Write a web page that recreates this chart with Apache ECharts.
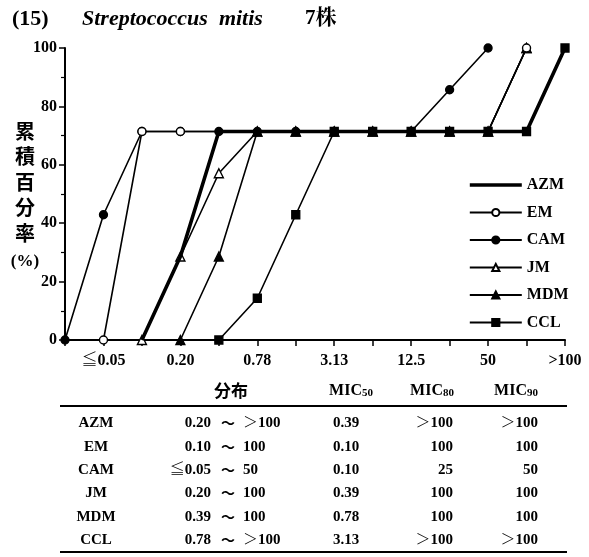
<!DOCTYPE html>
<html>
<head>
<meta charset="utf-8">
<script src="https://cdn.jsdelivr.net/npm/echarts@6/dist/echarts.min.js"></script>
<style>
html,body{margin:0;padding:0;background:#fff}
#c{width:589px;height:557px}
</style>
</head>
<body>
<div id="c"></div>
<script>
// MIC steps (μg/mL); the first slot is the unlabeled origin of the curves
const micSteps = ['', '≦0.05', '0.10', '0.20', '0.39', '0.78', '1.56', '3.13', '6.25', '12.5', '25', '50', '100', '>100'];
const drugs = ['AZM', 'EM', 'CAM', 'JM', 'MDM', 'CCL'];

// cumulative % of 7 strains inhibited at each step
const azm = ['-', '-', 0, 28.6, 71.4, 71.4, 71.4, 71.4, 71.4, 71.4, 71.4, 71.4, 71.4, 100];
const em  = ['-', 0, 71.4, 71.4, 71.4, 71.4, 71.4, 71.4, 71.4, 71.4, 71.4, 71.4, 100, '-'];
const cam = [0, 42.9, 71.4, 71.4, 71.4, 71.4, 71.4, 71.4, 71.4, 71.4, 85.7, 100, '-', '-'];
const jm  = ['-', '-', 0, 28.6, 57.1, 71.4, 71.4, 71.4, 71.4, 71.4, 71.4, 71.4, 100, '-'];
const mdm = ['-', '-', '-', 0, 28.6, 71.4, 71.4, 71.4, 71.4, 71.4, 71.4, 71.4, 100, '-'];
const ccl = ['-', '-', '-', '-', 0, 14.3, 42.9, 71.4, 71.4, 71.4, 71.4, 71.4, 71.4, 100];

const yTicks = [0, 20, 40, 60, 80, 100];

// summary table
const rangeLow  = ['0.20', '0.10', '≦0.05', '0.20', '0.39', '0.78'];
const rangeHigh = ['＞100', '100', '50', '100', '100', '＞100'];
const mic50 = ['0.39', '0.10', '0.10', '0.39', '0.78', '3.13'];
const mic80 = ['＞100', '100', '25', '100', '100', '＞100'];
const mic90 = ['＞100', '100', '50', '100', '100', '＞100'];

const SERIF = "'Liberation Serif','Noto Serif CJK JP','Noto Sans CJK JP',serif";
const CJK = "'Noto Sans CJK JP','Noto Sans CJK SC',sans-serif";

const chart = echarts.init(document.getElementById('c'), null, {renderer: 'canvas'});

const lineBase = {type: 'line', symbolSize: 8, connectNulls: false, animation: false,
  lineStyle: {color: '#000', width: 1.6}, itemStyle: {color: '#000', borderColor: '#000', borderWidth: 1.3}};

function mk(name, data, extra) {
  return Object.assign({}, lineBase, {name: name, data: data}, extra || {});
}

// EM's open circles sit on top; along the shared plateau the filled marks of the other drugs show
const emData = em.map((v, i) => (i >= 4 && v !== '-' && v < 100) ? {value: v, symbol: 'none'} : v);

const series = [
  mk('JM', jm, {symbol: 'triangle', symbolSize: 9, itemStyle: {color: '#fff', borderColor: '#000', borderWidth: 1.4}, z: 2}),
  mk('MDM', mdm, {symbol: 'triangle', symbolSize: 9, z: 3}),
  mk('CCL', ccl, {symbol: 'rect', symbolSize: 8, z: 4}),
  mk('CAM', cam, {symbol: 'circle', z: 5}),
  mk('EM', emData, {symbol: 'circle', itemStyle: {color: '#fff', borderColor: '#000', borderWidth: 1.4}, z: 6}),
  mk('AZM', azm, {symbol: 'circle', showSymbol: false, lineStyle: {color: '#000', width: 3.6}, z: 7})
];

// table graphics
const g = [];
const rowY = [423, 447, 470, 493, 517, 540];
const txt = (x, y, text, align, extra) => g.push({
  type: 'text', x: x, y: y,
  style: Object.assign({text: text, fill: '#000', font: 'bold 15px ' + SERIF, align: align || 'left', verticalAlign: 'middle'}, extra || {})
});

// title
txt(12, 19, '(15)', 'left', {font: 'bold 22px ' + SERIF});
txt(82, 19, 'Streptococcus  mitis', 'left', {font: 'italic bold 22px ' + SERIF, letterSpacing: 0.4});
txt(305, 19, '7株', 'left', {font: 'bold 21px ' + SERIF});

// y axis name, stacked vertically
const yName = ['累', '積', '百', '分', '率'];
yName.forEach((ch, i) => txt(25, 131 + i * 25.5, ch, 'center', {font: 'bold 20px ' + CJK}));
txt(25, 262, '(%)', 'center', {font: 'bold 17px ' + SERIF});

// table header
txt(231, 391, '分布', 'center', {font: 'bold 17px ' + CJK});
[[351, '50'], [432, '80'], [516, '90']].forEach(([x, sub]) => g.push({
  type: 'text', x: x, y: 391,
  style: {text: '{m|MIC}{s|' + sub + '}', align: 'center', verticalAlign: 'middle',
    rich: {m: {font: 'bold 16px ' + SERIF, fill: '#000'}, s: {font: 'bold 11px ' + SERIF, fill: '#000', padding: [4, 0, 0, 0]}}}
}));
g.push({type: 'line', shape: {x1: 60, y1: 406, x2: 567, y2: 406}, style: {stroke: '#000', lineWidth: 2}});
g.push({type: 'line', shape: {x1: 60, y1: 552, x2: 567, y2: 552}, style: {stroke: '#000', lineWidth: 2}});

drugs.forEach((d, i) => {
  const y = rowY[i];
  txt(96, y, d, 'center');
  txt(211, y, rangeLow[i], 'right');
  txt(228, y, '～', 'center', {font: 'bold 14px ' + CJK});
  txt(243, y, rangeHigh[i], 'left');
  txt(333, y, mic50[i], 'left');
  txt(453, y, mic80[i], 'right');
  txt(538, y, mic90[i], 'right');
});

const legendData = drugs.map(d => d === 'AZM'
  ? {name: d, itemStyle: {opacity: 0}, lineStyle: {width: 3.6}}
  : {name: d});

chart.setOption({
  animation: false,
  backgroundColor: '#fff',
  grid: {left: 65, right: 24, top: 48, bottom: 217, containLabel: false},
  legend: {
    data: legendData, orient: 'vertical', left: 468, top: 177,
    itemWidth: 52, itemHeight: 9, itemGap: 11.5, padding: 0,
    textStyle: {color: '#000', fontFamily: SERIF, fontWeight: 'bold', fontSize: 16, padding: [0, 0, 0, 0]}
  },
  xAxis: {
    type: 'category', data: micSteps, boundaryGap: false,
    axisLine: {lineStyle: {color: '#000', width: 2}},
    axisTick: {show: true, interval: 0, length: 6, lineStyle: {color: '#000', width: 1.5}},
    axisLabel: {interval: (idx) => idx % 2 === 1, color: '#000', fontFamily: SERIF, fontWeight: 'bold', fontSize: 16, margin: 13},
    splitLine: {show: false}
  },
  yAxis: {
    type: 'value', min: yTicks[0], max: yTicks[yTicks.length - 1], interval: 20,
    axisLine: {show: true, lineStyle: {color: '#000', width: 2}},
    axisTick: {show: true, length: 6, lineStyle: {color: '#000', width: 1.5}},
    minorTick: {show: true, splitNumber: 2, length: 4, lineStyle: {color: '#000', width: 1.2}},
    axisLabel: {color: '#000', fontFamily: SERIF, fontWeight: 'bold', fontSize: 16, margin: 8},
    splitLine: {show: false}
  },
  series: series,
  graphic: g
});
</script>
</body>
</html>
